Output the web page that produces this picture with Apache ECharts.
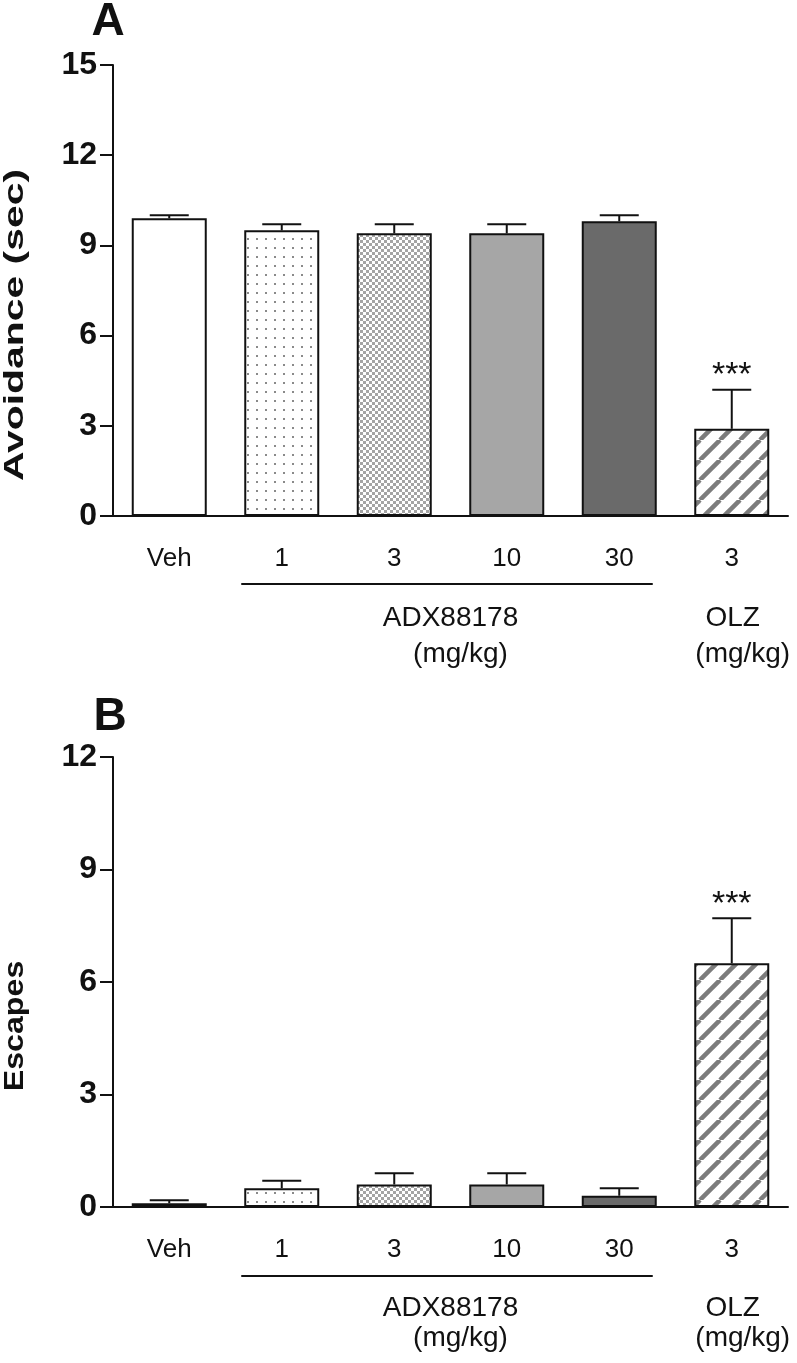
<!DOCTYPE html>
<html><head><meta charset="utf-8">
<script src="https://cdn.jsdelivr.net/npm/echarts@6/dist/echarts.min.js"></script>
<style>html,body{margin:0;padding:0;background:#fff}#c{width:797px;height:1363px}</style>
</head><body><div id="c"></div>
<script>
// ---- data ----
const categories = ['Veh', '1', '3', '10', '30', '3'];
const avoidMean = [9.9, 9.5, 9.4, 9.4, 9.8, 2.9];
const avoidSem  = [0.1, 0.2, 0.3, 0.3, 0.2, 1.3];
const escMean   = [0.1, 0.5, 0.6, 0.6, 0.3, 6.5];
const escSem    = [0.08, 0.2, 0.3, 0.3, 0.2, 1.2];
const sigA = ['', '', '', '', '', '***'];
const sigB = ['', '', '', '', '', '***'];
const yMaxA = 15, yMaxB = 12, yStep = 3;

// ---- patterns ----
function mk(w, h, draw) { const c = document.createElement('canvas'); c.width = w; c.height = h; const g = c.getContext('2d'); g.fillStyle = '#fff'; g.fillRect(0, 0, w, h); draw(g, w, h); return c; }
const dots = mk(9, 9, g => { g.fillStyle = '#8a8a8a'; g.fillRect(4, 4, 2, 2); });
const checker = mk(6, 6, g => { g.fillStyle = '#a4a4a4'; g.fillRect(0, 0, 3, 3); g.fillRect(3, 3, 3, 3); });
const stripes = mk(20, 20, (g, s) => { g.strokeStyle = '#7c7c7c'; g.lineWidth = 4.5; for (let k = -1; k <= 1; k++) { g.beginPath(); g.moveTo(k * s, s); g.lineTo(k * s + s, 0); g.stroke(); } });
const fills = ['#ffffff', { image: dots, repeat: 'repeat' }, { image: checker, repeat: 'repeat' }, '#a6a6a6', '#6a6a6a', { image: stripes, repeat: 'repeat' }];

const FONT = '"Liberation Sans", Arial, sans-serif';
const INK = '#111';
const BARW = 75;

function barData(vals) { return vals.map((v, i) => ({ value: v, itemStyle: { color: fills[i] } })); }
function errData(m, s, sig) { return m.map((v, i) => [i, v, v + s[i], sig[i]]); }

function errRender(params, api) {
  const i = api.value(0);
  const base = api.coord([i, api.value(1)]);
  const top = api.coord([i, api.value(2)]);
  const half = 19.5;
  const st = { stroke: INK, lineWidth: 2 };
  const ch = [
    { type: 'line', shape: { x1: base[0], y1: base[1], x2: top[0], y2: top[1] }, style: st },
    { type: 'line', shape: { x1: top[0] - half, y1: top[1], x2: top[0] + half, y2: top[1] }, style: st }
  ];
  const s = api.value(3);
  if (s) ch.push({ type: 'text', x: top[0], y: top[1] - 14, style: { text: s, fontSize: 34, fontFamily: FONT, fill: INK, align: 'center', verticalAlign: 'middle' } });
  return { type: 'group', children: ch };
}

function xAxis(gi) {
  return {
    gridIndex: gi, type: 'category', data: categories,
    axisLine: { lineStyle: { color: INK, width: 2 } },
    axisTick: { alignWithLabel: true, length: 14, lineStyle: { color: INK, width: 2 } },
    axisLabel: { fontSize: 26, color: INK, fontFamily: FONT, margin: 30 }
  };
}
function yAxis(gi, max) {
  return {
    gridIndex: gi, type: 'value', min: 0, max: max, interval: yStep,
    splitLine: { show: false },
    axisLine: { show: true, lineStyle: { color: INK, width: 2 } },
    axisTick: { show: true, length: 13, lineStyle: { color: INK, width: 2 } },
    axisLabel: { fontSize: 32, fontWeight: 'bold', color: INK, fontFamily: FONT, margin: 16 }
  };
}

const chart = echarts.init(document.getElementById('c'), null, { renderer: 'canvas' });
chart.setOption({
  animation: false,
  backgroundColor: '#fff',
  grid: [
    { left: 113, width: 675, top: 65, height: 451 },
    { left: 113, width: 675, top: 757, height: 450 }
  ],
  xAxis: [xAxis(0), xAxis(1)],
  yAxis: [yAxis(0, yMaxA), yAxis(1, yMaxB)],
  series: [
    { type: 'bar', xAxisIndex: 0, yAxisIndex: 0, barWidth: BARW, data: barData(avoidMean), itemStyle: { borderColor: INK, borderWidth: 2 } },
    { type: 'custom', xAxisIndex: 0, yAxisIndex: 0, renderItem: errRender, data: errData(avoidMean, avoidSem, sigA), z: 5 },
    { type: 'bar', xAxisIndex: 1, yAxisIndex: 1, barWidth: BARW, data: barData(escMean), itemStyle: { borderColor: INK, borderWidth: 2 } },
    { type: 'custom', xAxisIndex: 1, yAxisIndex: 1, renderItem: errRender, data: errData(escMean, escSem, sigB), z: 5 }
  ]
});

// ---- annotations positioned from the axes ----
function px(gi, idx, val) { return chart.convertToPixel({ gridIndex: gi }, [idx, val]); }
function txt(text, x, y, size, weight, extra) {
  return Object.assign({ type: 'text', x: x, y: y, style: { text: text, fontSize: size, fontWeight: weight || 'normal', fontFamily: FONT, fill: INK, align: 'center', verticalAlign: 'middle' } }, extra || {});
}
const gfx = [];
[[0, 68, 102, 138], [1, 69, 101, 131]].forEach(([gi, dLine, dName, dUnit]) => {
  const p1 = px(gi, 1, 0), p30 = px(gi, 4, 0), pO = px(gi, 5, 0);
  const y0 = p1[1];
  gfx.push({ type: 'line', shape: { x1: p1[0] - BARW / 2 - 3, y1: y0 + dLine, x2: p30[0] + BARW / 2 - 4, y2: y0 + dLine }, style: { stroke: INK, lineWidth: 2 } });
  const mid = (p1[0] + p30[0]) / 2;
  gfx.push(txt('ADX88178', mid, y0 + dName, 28));
  gfx.push(txt('(mg/kg)', mid + 10, y0 + dUnit, 28));
  gfx.push(txt('OLZ', pO[0] + 1, y0 + dName, 28));
  gfx.push(txt('(mg/kg)', pO[0] + 11, y0 + dUnit, 28));
});
gfx.push(txt('Avoidance (sec)', 15, 325, 28, 'bold', { rotation: Math.PI / 2, scaleX: 1.46 }));
gfx.push(txt('Escapes', 15, 1026, 28, 'bold', { rotation: Math.PI / 2, scaleX: 1.15 }));
gfx.push(txt('A', 108, 22, 46, 'bold'));
gfx.push(txt('B', 110, 717, 46, 'bold'));
chart.setOption({ graphic: { elements: gfx } });
</script>
</body></html>
